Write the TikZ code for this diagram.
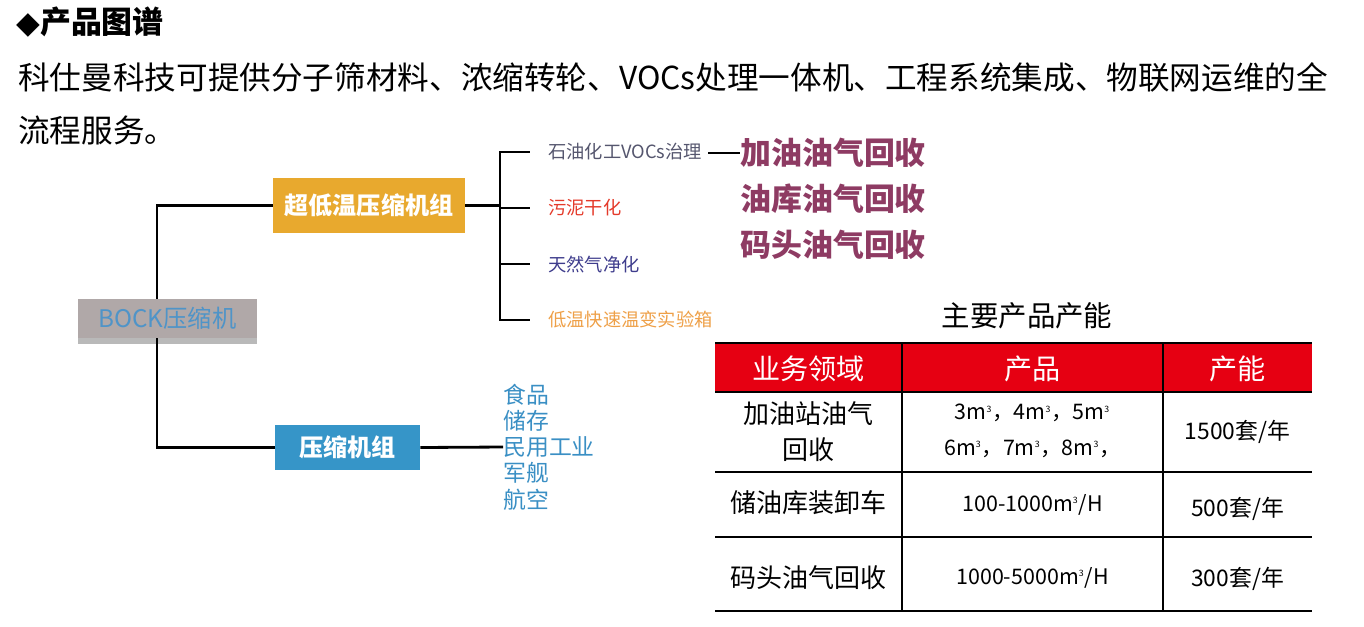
\documentclass[tikz,border=0pt]{standalone}
\usepackage{fontspec}
\setmainfont{Noto Sans CJK SC}
\newfontfamily\symfont{DejaVu Sans}
\usetikzlibrary{shadows}

\definecolor{boxgray}{HTML}{B0A8A8}
\definecolor{bocktext}{HTML}{4F94C8}
\definecolor{boxorange}{HTML}{E8A92E}
\definecolor{boxblue}{HTML}{3695C8}
\definecolor{recovery}{HTML}{8E3B63}
\definecolor{headred}{HTML}{E60012}
\definecolor{petrogray}{HTML}{55566E}
\definecolor{sludgered}{HTML}{E43A2A}
\definecolor{gasblue}{HTML}{3E3C8C}
\definecolor{testorange}{HTML}{EEA048}
\definecolor{listblue}{HTML}{3A8FC4}

\newcommand{\cubic}{\textsuperscript{\tiny 3}}

\begin{document}
\begin{tikzpicture}[x=0.02cm, y=-0.02cm,
  conn/.style={line width=1.6pt},
  box/.style={inner sep=0pt, text=white, font=\fontsize{13.7}{16}\selectfont\bfseries},
  branch/.style={anchor=west, inner sep=0pt, font=\fontsize{10.4}{12}\selectfont},
  recov/.style={anchor=west, inner sep=0pt, text=recovery, font=\fontsize{17.6}{20}\selectfont\bfseries},
  cell/.style={inner sep=0pt, align=center, font=\fontsize{14.8}{20.4}\selectfont},
  numcell/.style={inner sep=0pt, align=center, font=\fontsize{12.2}{20.4}\selectfont}]

  \useasboundingbox (0,0) rectangle (1364,626);

  % Heading and intro text
  \node[anchor=west, inner sep=0pt, font=\fontsize{17.6}{20}\selectfont\bfseries] (title) at (16,22) {{\symfont ◆}产品图谱};
  \node[anchor=west, inner sep=0pt, font=\fontsize{18}{20}\selectfont] (intro1) at (18,77) {科仕曼科技可提供分子筛材料、浓缩转轮、VOCs处理一体机、工程系统集成、物联网运维的全};
  \node[anchor=west, inner sep=0pt, font=\fontsize{18}{20}\selectfont] (intro2) at (18,130) {流程服务。};

  % The three boxes of the tree
  \node[fill=boxgray, minimum width=3.58cm, minimum height=0.78cm, inner sep=0pt,
        text=bocktext, font=\fontsize{13.8}{16}\selectfont,
        drop shadow={opacity=0.55, shadow xshift=0pt, shadow yshift=-0.12cm}] (bock) at (167.5,318.5) {BOCK压缩机};
  \node[box, fill=boxorange, minimum width=3.84cm, minimum height=1.1cm] (cryo) at (369,205.5) {超低温压缩机组};
  \node[box, fill=boxblue, minimum width=2.9cm, minimum height=0.9cm] (unit) at (347.5,447.5) {压缩机组};

  % Draw the trunk from the BOCK box
  \draw[conn] (cryo.west) -| ([xshift=-0.21cm]bock.north);
  \draw[conn] ([xshift=-0.21cm]bock.south) |- (unit.west);

  % Applications of the ultra-low temperature units
  \coordinate (hub) at (500,205.5);
  \node[branch, text=petrogray] (petro) at (548,152) {石油化工VOCs治理};
  \node[branch, text=sludgered] (sludge) at (548,208) {污泥干化};
  \node[branch, text=gasblue] (gas) at (548,264) {天然气净化};
  \node[branch, text=testorange] (chamber) at (548,320) {低温快速温变实验箱};
  \draw[conn] (cryo.east) -- (hub);
  \draw[conn] (hub) |- ([xshift=-0.36cm]petro.west);
  \draw[conn] (hub) |- ([xshift=-0.36cm]sludge.west);
  \draw[conn] (hub) |- ([xshift=-0.36cm]gas.west);
  \draw[conn] (hub) |- ([xshift=-0.36cm]chamber.west);

  % Vapour recovery lines
  \node[recov] (station) at (740,153) {加油油气回收};
  \node[recov] (depot) at (740,199) {油库油气回收};
  \node[recov] (wharf) at (740,245) {码头油气回收};
  \draw[conn] ([xshift=0.12cm]petro.east |- station.west) -- (station.west);

  % Uses of the compressor units
  \node[anchor=west, inner sep=0pt, align=left, text=listblue,
        font=\fontsize{13}{14.9}\selectfont] (uses) at (503,447) {食品\\储存\\民用工业\\军舰\\航空};
  \draw[conn] (unit.east) -- (uses.west);

  % Capacity table
  \node[inner sep=0pt, font=\fontsize{16.2}{18}\selectfont] (captitle) at (1027,316) {主要产品产能};
  \fill[headred] (715,343) rectangle (1312,392);
  \draw[line width=1.6pt] (715,343) -- (1312,343);
  \draw[line width=1.2pt] (715,392) -- (1312,392);
  \foreach \y in {472,537,611}
    \draw[line width=1.6pt] (715,\y) -- (1312,\y);
  \foreach \x in {902,1163}
    \draw[line width=1.2pt] (\x,343) -- (\x,611);

  % Header row
  \node[cell, text=white, font=\fontsize{16}{18}\selectfont] (hfield) at (808.5,369) {业务领域};
  \node[cell, text=white, font=\fontsize{16}{18}\selectfont] (hprod) at (1032.5,369) {产品};
  \node[cell, text=white, font=\fontsize{16}{18}\selectfont] (hcap) at (1237.5,369) {产能};

  % Table rows
  \node[cell] (f1) at (808.5,432) {加油站油气\\回收};
  \node[numcell] (p1) at (1032.5,431) {3m\cubic，4m\cubic，5m\cubic\\6m\cubic，7m\cubic，8m\cubic，};
  \node[numcell, font=\fontsize{13}{16}\selectfont] (c1) at (1237.5,432) {1500套/年};

  \node[cell] (f2) at (808.5,503) {储油库装卸车};
  \node[numcell] (p2) at (1032.5,505) {100-1000m\cubic/H};
  \node[numcell, font=\fontsize{13}{16}\selectfont] (c2) at (1237.5,509) {500套/年};

  \node[cell] (f3) at (808.5,578) {码头油气回收};
  \node[numcell] (p3) at (1032.5,578) {1000-5000m\cubic/H};
  \node[numcell, font=\fontsize{13}{16}\selectfont] (c3) at (1237.5,579) {300套/年};
\end{tikzpicture}
\end{document}
